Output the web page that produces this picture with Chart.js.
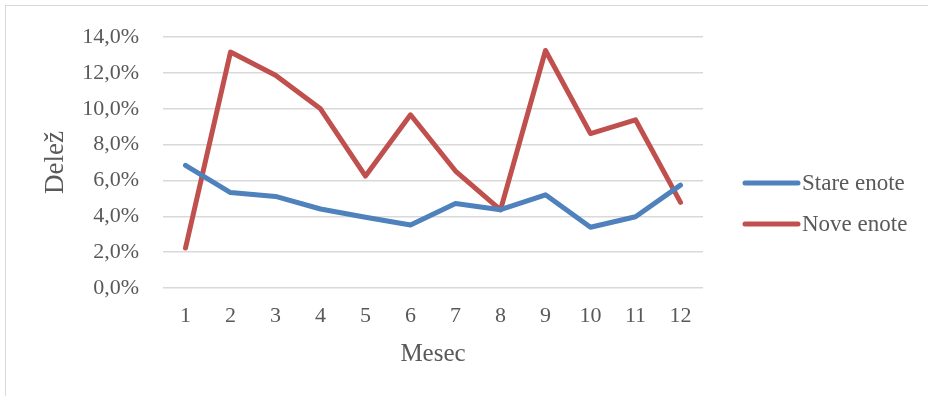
<!DOCTYPE html>
<html>
<head>
<meta charset="utf-8">
<script src="https://cdn.jsdelivr.net/npm/chart.js@4"></script>
<style>
  html, body { margin: 0; padding: 0; background: #ffffff; }
  #wrap { position: relative; width: 928px; height: 396px; overflow: hidden; }
  #frame { position: absolute; left: 5px; top: 5px; width: 1000px; height: 500px;
           border-left: 1.5px solid #d9d9d9; border-top: 1.5px solid #d9d9d9; }
  canvas { position: absolute; left: 0; top: 0; }
</style>
</head>
<body>
<div id="wrap">
  <div id="frame"></div>
  <canvas id="c" width="928" height="396"></canvas>
</div>
<script>
// Months and monthly shares (%)
const months = ['1', '2', '3', '4', '5', '6', '7', '8', '9', '10', '11', '12'];
const stareEnote = [6.85, 5.33, 5.11, 4.41, 3.95, 3.52, 4.72, 4.37, 5.20, 3.39, 3.98, 5.74];
const noveEnote = [2.23, 13.17, 11.88, 10.00, 6.25, 9.67, 6.53, 4.36, 13.26, 8.62, 9.39, 4.78];
const seriesNames = ['Stare enote', 'Nove enote'];
const seriesColors = ['#4F81BD', '#C0504D'];

const FONT = '"Liberation Serif", "Times New Roman", serif';
const TEXT = '#595959';

// Legend on the right: a thick line sample followed by the series name
const sideLegend = {
  id: 'sideLegend',
  afterDraw(chart) {
    const ctx = chart.ctx;
    const rows = [183, 224];
    ctx.save();
    chart.data.datasets.forEach((ds, i) => {
      const y = rows[i];
      ctx.strokeStyle = ds.borderColor;
      ctx.lineWidth = 5;
      ctx.lineCap = 'round';
      ctx.beginPath();
      ctx.moveTo(745, y);
      ctx.lineTo(798, y);
      ctx.stroke();
      ctx.fillStyle = TEXT;
      ctx.font = '23px ' + FONT;
      ctx.textAlign = 'left';
      ctx.textBaseline = 'middle';
      ctx.fillText(ds.label, 802, y + 1);
    });
    ctx.restore();
  }
};

const lineStyle = {
  borderWidth: 5,
  pointRadius: 0,
  pointHoverRadius: 0,
  tension: 0,
  borderJoinStyle: 'round',
  borderCapStyle: 'round',
  fill: false
};

new Chart(document.getElementById('c'), {
  type: 'line',
  data: {
    labels: months,
    datasets: [
      Object.assign({ label: seriesNames[0], data: stareEnote, borderColor: seriesColors[0], backgroundColor: seriesColors[0] }, lineStyle),
      Object.assign({ label: seriesNames[1], data: noveEnote, borderColor: seriesColors[1], backgroundColor: seriesColors[1] }, lineStyle)
    ]
  },
  options: {
    responsive: false,
    animation: false,
    layout: { padding: { top: 35, right: 225, left: 0, bottom: 0 } },
    plugins: { legend: { display: false }, tooltip: { enabled: false } },
    scales: {
      x: {
        offset: true,
        grid: { display: false, drawTicks: false },
        border: { display: false },
        ticks: { color: TEXT, font: { family: FONT, size: 22 }, padding: 15, maxRotation: 0 },
        title: { display: true, text: 'Mesec', color: TEXT, font: { family: FONT, size: 25 }, padding: { top: 0, bottom: 27 } },
        afterFit(scale) { scale.height = 108; }
      },
      y: {
        min: 0,
        max: 14,
        grid: { color: '#d9d9d9', lineWidth: 1.5, drawTicks: false },
        border: { display: false },
        ticks: {
          stepSize: 2,
          color: TEXT,
          font: { family: FONT, size: 22 },
          padding: 24,
          callback: v => v.toFixed(1).replace('.', ',') + '%'
        },
        title: { display: true, text: 'Delež', color: TEXT, font: { family: FONT, size: 27 }, padding: { top: 40, bottom: 0 } },
        afterFit(scale) { scale.width = 163; }
      }
    }
  },
  plugins: [sideLegend]
});
</script>
</body>
</html>
